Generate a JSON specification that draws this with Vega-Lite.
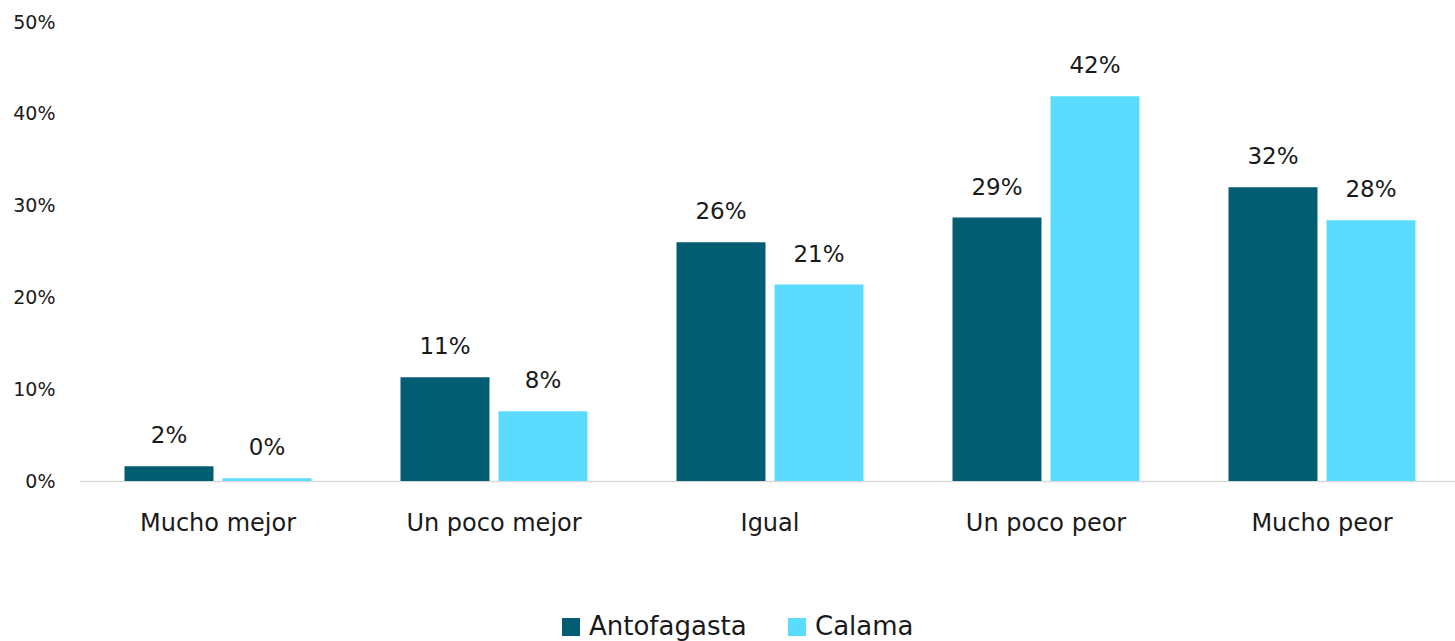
{
  "$schema": "https://vega.github.io/schema/vega-lite/v6.json",
  "width": 1380,
  "height": 459,
  "autosize": {"type": "none"},
  "padding": {"left": 80, "top": 22, "right": 0, "bottom": 160},
  "background": "white",
  "config": {
    "view": {"stroke": null},
    "font": "DejaVu Sans",
    "text": {"font": "DejaVu Sans"}
  },
  "data": {
    "values": [
      {"cat": "Mucho mejor", "city": "Antofagasta", "v": 0.016},
      {"cat": "Mucho mejor", "city": "Calama", "v": 0.003},
      {"cat": "Un poco mejor", "city": "Antofagasta", "v": 0.113},
      {"cat": "Un poco mejor", "city": "Calama", "v": 0.076},
      {"cat": "Igual", "city": "Antofagasta", "v": 0.26},
      {"cat": "Igual", "city": "Calama", "v": 0.214},
      {"cat": "Un poco peor", "city": "Antofagasta", "v": 0.287},
      {"cat": "Un poco peor", "city": "Calama", "v": 0.419},
      {"cat": "Mucho peor", "city": "Antofagasta", "v": 0.32},
      {"cat": "Mucho peor", "city": "Calama", "v": 0.284}
    ]
  },
  "encoding": {
    "x": {
      "field": "cat", "type": "nominal",
      "sort": ["Mucho mejor", "Un poco mejor", "Igual", "Un poco peor", "Mucho peor"],
      "scale": {"paddingInner": 0.3225, "paddingOuter": 0.16125},
      "axis": {
        "title": null, "labelAngle": 0, "ticks": false,
        "domainColor": "#D9D9D9", "domainWidth": 1.5,
        "labelFontSize": 24, "labelColor": "#1a1a1a", "labelPadding": 49,
        "labelBaseline": "alphabetic"
      }
    },
    "xOffset": {
      "field": "city", "type": "nominal",
      "scale": {"paddingInner": 0.092, "paddingOuter": 0}
    },
    "y": {
      "field": "v", "type": "quantitative",
      "scale": {"domain": [0, 0.5]},
      "axis": {
        "title": null, "format": ".0%", "values": [0, 0.1, 0.2, 0.3, 0.4, 0.5],
        "labelOverlap": false, "labelBound": false, "labelFlush": false,
        "grid": false, "domain": false, "ticks": false,
        "labelFontSize": 19, "labelColor": "#1a1a1a", "labelPadding": 25
      }
    }
  },
  "layer": [
    {
      "mark": {"type": "bar"},
      "encoding": {
        "color": {
          "field": "city", "type": "nominal",
          "scale": {"domain": ["Antofagasta", "Calama"], "range": ["#025D73", "#5BDCFF"]},
          "legend": {
            "title": null, "orient": "none", "direction": "horizontal",
            "legendX": 478, "legendY": 592,
            "symbolType": "square", "symbolSize": 324, "labelFontSize": 26,
            "labelColor": "#1a1a1a", "columnPadding": 37,
            "symbolStrokeWidth": 0, "labelOffset": 5
          }
        }
      }
    },
    {
      "mark": {"type": "text", "baseline": "alphabetic", "dy": -23, "fontSize": 23, "color": "#1a1a1a"},
      "encoding": {
        "text": {"field": "v", "type": "quantitative", "format": ".0%"}
      }
    }
  ]
}
